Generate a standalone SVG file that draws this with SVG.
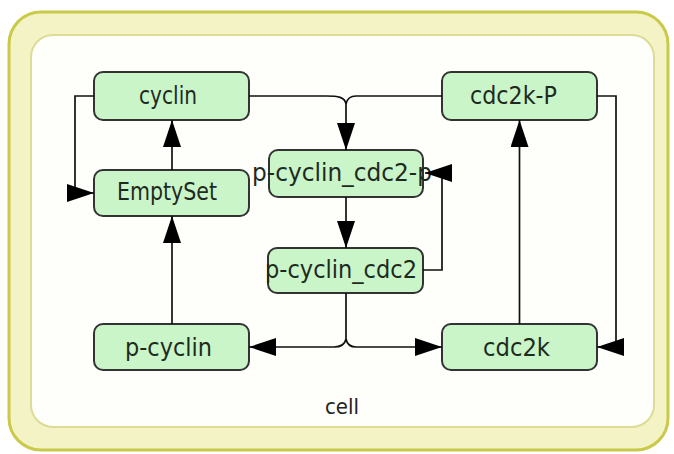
<svg xmlns="http://www.w3.org/2000/svg" width="674" height="454" viewBox="0 0 674 454">
<style>
.node rect{fill:#c9f5c9;stroke:#333;stroke-width:2}
.node text{font-family:"DejaVu Sans",sans-serif;font-size:24px;fill:#1e2a1e;text-anchor:middle}
.conn path{fill:none;stroke:#111;stroke-width:1.7}
.lbl{font-family:"DejaVu Sans",sans-serif;font-size:22px;fill:#222;text-anchor:middle}
</style>
<defs>
<marker id="arr" markerUnits="userSpaceOnUse" markerWidth="27" markerHeight="18" refX="27" refY="9" orient="auto">
<path d="M0,0 L27,9 L0,18 Z" fill="#000"/>
</marker>
</defs>
<g id="cell">
<rect x="9" y="12" width="659" height="438" rx="32" fill="#f3f3c6" stroke="#c9c94a" stroke-width="3"/>
<rect x="31" y="35" width="623" height="392" rx="22" fill="#fefefa" stroke="#dcdc96" stroke-width="2"/>
<text class="lbl" x="342" y="414" textLength="34" lengthAdjust="spacingAndGlyphs">cell</text>
</g>
<g id="n_cyclin" class="node">
<rect x="94" y="72" width="155" height="48" rx="9"/>
<text x="168" y="104" textLength="58" lengthAdjust="spacingAndGlyphs">cyclin</text>
</g>
<g id="n_EmptySet" class="node">
<rect x="94" y="170" width="155" height="46" rx="9"/>
<text x="167" y="200" textLength="100" lengthAdjust="spacingAndGlyphs">EmptySet</text>
</g>
<g id="n_p_cyclin_cdc2_p" class="node">
<rect x="269" y="150" width="154" height="47" rx="9"/>
<text x="342" y="181" textLength="180" lengthAdjust="spacingAndGlyphs">p-cyclin_cdc2-p</text>
</g>
<g id="n_p_cyclin_cdc2" class="node">
<rect x="268" y="248" width="155" height="45" rx="9"/>
<text x="341" y="278" textLength="152" lengthAdjust="spacingAndGlyphs">p-cyclin_cdc2</text>
</g>
<g id="n_p_cyclin" class="node">
<rect x="94" y="324" width="155" height="46" rx="9"/>
<text x="168.5" y="356" textLength="87" lengthAdjust="spacingAndGlyphs">p-cyclin</text>
</g>
<g id="n_cdc2k_P" class="node">
<rect x="442" y="72" width="155" height="48" rx="9"/>
<text x="513.5" y="104" textLength="87" lengthAdjust="spacingAndGlyphs">cdc2k-P</text>
</g>
<g id="n_cdc2k" class="node">
<rect x="442" y="324" width="155" height="46" rx="9"/>
<text x="516.5" y="356" textLength="67" lengthAdjust="spacingAndGlyphs">cdc2k</text>
</g>
<g id="connectors" class="conn">
<path d="M94,96 H75 V193 H94" marker-end="url(#arr)"/>
<path d="M172,170 V120" marker-end="url(#arr)"/>
<path d="M172,324 V216" marker-end="url(#arr)"/>
<path d="M249,96 H326 C338,96 345,97 346,104 V150" marker-end="url(#arr)"/>
<path d="M442,96 H356 C350,96 347,99 346,104"/>
<path d="M346,197 V248" marker-end="url(#arr)"/>
<path d="M423,270 H442 V173 H425" marker-end="url(#arr)"/>
<path d="M346,293 V339 C345,344 341,347 334,347 H249" marker-end="url(#arr)"/>
<path d="M346,339 C347,344 350,347 356,347 H442" marker-end="url(#arr)"/>
<path d="M519.5,324 V120" marker-end="url(#arr)"/>
<path d="M597,96 H616 V347 H597" marker-end="url(#arr)"/>
</g>
</svg>
